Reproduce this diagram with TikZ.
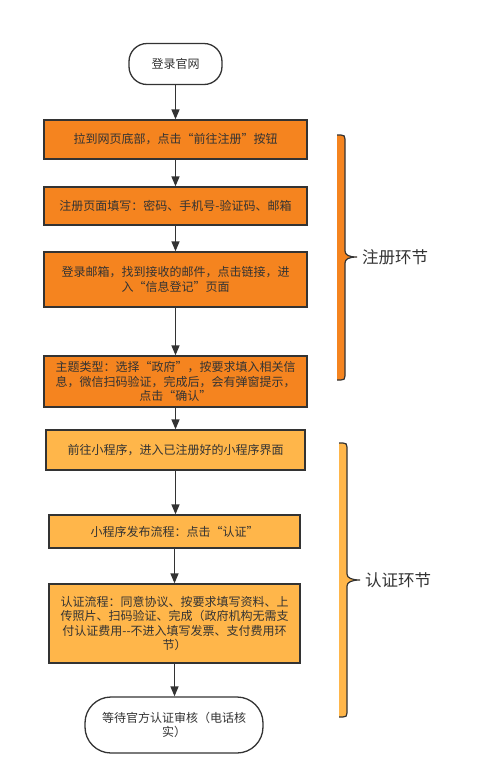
\documentclass[tikz,border=0pt]{standalone}
\usepackage{fontspec}
\setmainfont{Noto Sans CJK SC}
\usetikzlibrary{arrows.meta}
\definecolor{dk}{HTML}{333333}
\definecolor{orA}{HTML}{F5841F}
\definecolor{orB}{HTML}{FFB64A}
\tikzset{
  base/.style={draw=dk,line width=1.3pt,text=dk,inner sep=0pt,align=center,
    font=\fontsize{12}{14.5}\selectfont},
  boxA/.style={base,fill=orA},
  boxB/.style={base,fill=orB},
  term/.style={base,fill=white,rounded corners=18pt},
  arr/.style={draw=dk,line width=1.4pt,-{Triangle[length=10pt,width=8pt]}},
  brace/.style={draw=dk,line width=1.2pt},
  lab/.style={text=dk,anchor=west,inner sep=0pt,font=\fontsize{16.5}{18}\selectfont}
}
\begin{document}
\begin{tikzpicture}[x=1pt,y=-1pt]
\useasboundingbox (0,0) rectangle (500,782);
\node[term,minimum width=93pt,minimum height=41pt] (s) at (175.5,64) {登录官网};
\node[boxA,minimum width=263pt,minimum height=39pt] (b1) at (175.5,139.5) {拉到网页底部，点击“前往注册”按钮};
\node[boxA,minimum width=263pt,minimum height=38pt] (b2) at (175.5,206) {注册页面填写：密码、手机号-验证码、邮箱};
\node[boxA,minimum width=263pt,minimum height=55pt] (b3) at (175.5,279.5) {登录邮箱，找到接收的邮件，点击链接，进\\入“信息登记”页面};
\node[boxA,minimum width=263pt,minimum height=51pt] (b4) at (175.5,381.5) {主题类型：选择“政府”，按要求填入相关信\\息，微信扫码验证，完成后，会有弹窗提示，\\点击“确认”};
\node[boxB,minimum width=259pt,minimum height=40pt] (b5) at (175.5,450) {前往小程序，进入已注册好的小程序界面};
\node[boxB,minimum width=251pt,minimum height=33pt] (b6) at (174.5,531.5) {小程序发布流程：点击“认证”};
\node[boxB,minimum width=251pt,minimum height=79pt] (b7) at (174.5,623.5) {认证流程：同意协议、按要求填写资料、上\\传照片、扫码验证、完成（政府机构无需支\\付认证费用{-}{-}不进入填写发票、支付费用环\\节）};
\node[term,rounded corners=26pt,minimum width=178pt,minimum height=56pt] (e) at (174,725) {等待官方认证审核（电话核\\实）};
\draw[arr] (s.south) -- (s.south |- b1.north);
\draw[arr] (b1.south) -- (b1.south |- b2.north);
\draw[arr] (b2.south) -- (b2.south |- b3.north);
\draw[arr] (b3.south) -- (b3.south |- b4.north);
\draw[arr] (b4.south) -- (b4.south |- b5.north);
\draw[arr] (b5.south) -- (b5.south |- b6.north);
\draw[arr] (b6.south) -- (b6.south |- b7.north);
\draw[arr] (b7.south) -- (b7.south |- e.north);
% brace 1
\coordinate (t1) at (357,257);
\fill[orA] (337,135) -- (341,135) .. controls (344,135) and (345,136) .. (345,139) -- (345,251)
  .. controls (345,255) and (349,257) .. (t1) .. controls (349,257) and (345,259) .. (345,263)
  -- (345,376) .. controls (345,379) and (344,380) .. (341,380) -- (337,380) -- cycle;
\draw[brace] (337,135) -- (341,135) .. controls (344,135) and (345,136) .. (345,139) -- (345,251)
  .. controls (345,255) and (349,257) .. (t1) .. controls (349,257) and (345,259) .. (345,263)
  -- (345,376) .. controls (345,379) and (344,380) .. (341,380) -- (337,380);
\node[lab] (l1) at (362,257) {注册环节};
% brace 2
\coordinate (t2) at (360,580);
\fill[orB] (339,443) -- (343,443) .. controls (346,443) and (347,444) .. (347,447) -- (347,574)
  .. controls (347,578) and (352,580) .. (t2) .. controls (352,580) and (347,582) .. (347,586)
  -- (347,713) .. controls (347,716) and (346,717) .. (343,717) -- (339,717) -- cycle;
\draw[brace] (339,443) -- (343,443) .. controls (346,443) and (347,444) .. (347,447) -- (347,574)
  .. controls (347,578) and (352,580) .. (t2) .. controls (352,580) and (347,582) .. (347,586)
  -- (347,713) .. controls (347,716) and (346,717) .. (343,717) -- (339,717);
\node[lab] (l2) at (365,580) {认证环节};
\end{tikzpicture}
\end{document}
